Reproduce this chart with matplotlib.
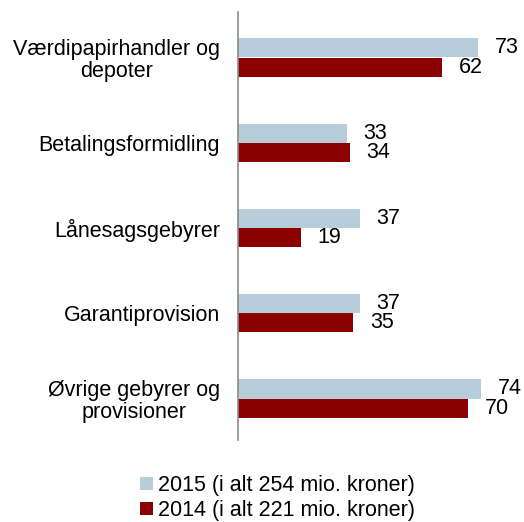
import matplotlib
matplotlib.use("Agg")
import matplotlib.pyplot as plt
import numpy as np

plt.rcParams['font.family'] = ['Liberation Sans', 'DejaVu Sans']

categories = ["Værdipapirhandler og\ndepoter", "Betalingsformidling", "Lånesagsgebyrer",
              "Garantiprovision", "Øvrige gebyrer og\nprovisioner"]
values_2015 = [73, 33, 37, 37, 74]
values_2014 = [62, 34, 19, 35, 70]
legend_labels = ["2015 (i alt 254 mio. kroner)", "2014 (i alt 221 mio. kroner)"]

c2015 = "#b7cdd9"
c2014 = "#8b0000"

W, H = 524, 522
fig = plt.figure(figsize=(W/100, H/100), dpi=100)
left_px, right_px = 238, 238 + 80*3.29
top_px, bot_px = 12, 440
ax = fig.add_axes([left_px/W, 1-bot_px/H, (right_px-left_px)/W, (bot_px-top_px)/H])

y = np.arange(len(categories))
h = 0.223
ax.barh(y - h/2, values_2015, height=h, color=c2015, label=legend_labels[0])
ax.barh(y + h/2, values_2014, height=h, color=c2014, label=legend_labels[1])

for yi, v in zip(y, values_2015):
    ax.annotate(str(v), (v, yi - h/2), xytext=(12, 0), textcoords='offset points',
                va='center', ha='left', fontsize=15.5, color='black')
for yi, v in zip(y, values_2014):
    ax.annotate(str(v), (v, yi + h/2), xytext=(12, 0), textcoords='offset points',
                va='center', ha='left', fontsize=15.5, color='black')

ax.set_xlim(0, 80)
ax.set_ylim(4 + 41.5/85.25, -45.5/85.25)
ax.set_yticks(y)
ax.set_yticklabels(categories, fontsize=15.5, multialignment='center', linespacing=1.05)
ax.tick_params(axis='y', length=0, pad=13)
ax.set_xticks([])
for s in ['top', 'right', 'bottom']:
    ax.spines[s].set_visible(False)
ax.spines['left'].set_color('#8c8c8c')
ax.spines['left'].set_linewidth(1.2)

fig.legend(loc='center', bbox_to_anchor=(277.5/W, 1-498/H), ncol=1, frameon=False,
           fontsize=15.5, handlelength=0.56, handleheight=0.56, handletextpad=0.23,
           labelspacing=0.2, borderpad=0)

fig.savefig("out.png", dpi=100)
